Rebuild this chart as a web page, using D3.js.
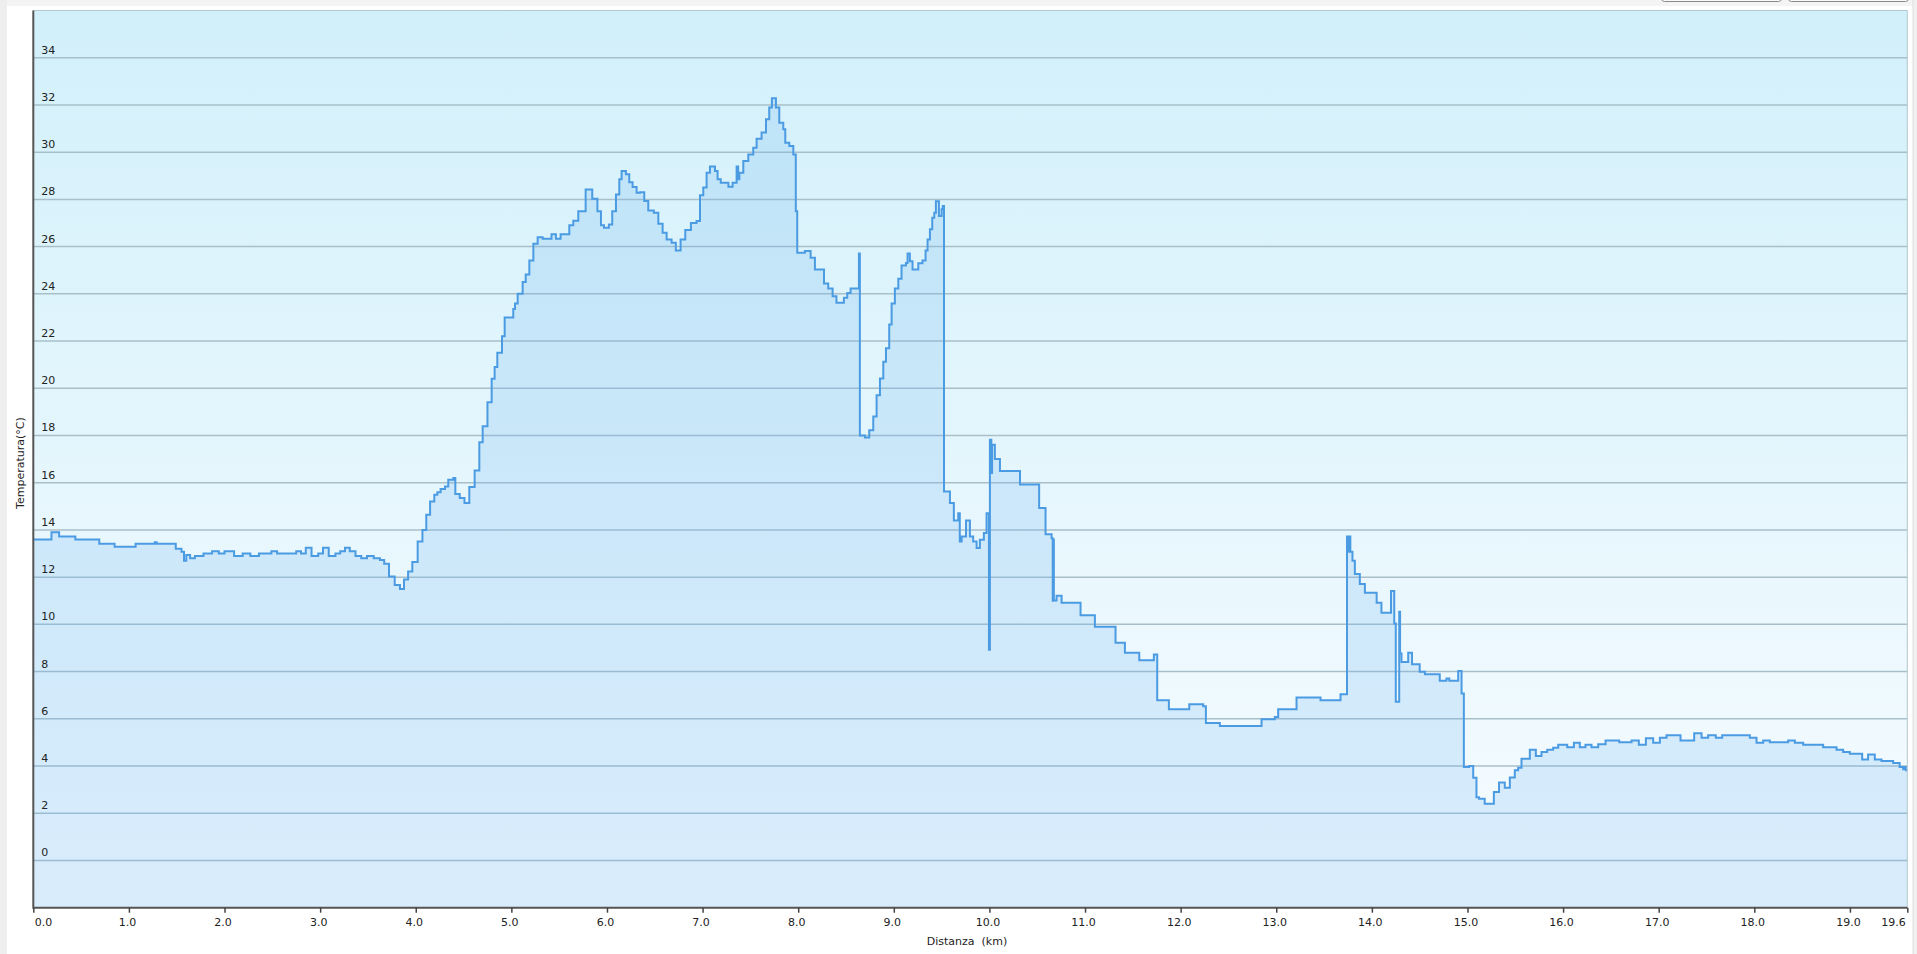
<!DOCTYPE html>
<html>
<head>
<meta charset="utf-8">
<script src="https://cdn.jsdelivr.net/npm/d3@7"></script>
<style>
  html, body { margin: 0; padding: 0; background: #fff; overflow: hidden; }
  svg { display: block; font-family: "DejaVu Sans", Verdana, sans-serif; }
</style>
</head>
<body>
<svg id="chart" width="1917" height="954"></svg>
<script>
// distance along the track (km) and temperature (°C), step samples
var distKm = [
  0.00, 0.19, 0.27, 0.44, 0.69, 0.85, 1.07, 1.27, 1.29, 1.49, 1.55, 1.576, 1.60, 1.64, 1.69,
  1.78, 1.87, 1.94, 2.00, 2.10, 2.19, 2.27, 2.36, 2.49, 2.55, 2.75, 2.80, 2.85, 2.91, 2.98,
  3.03, 3.09, 3.16, 3.21, 3.26, 3.31, 3.37, 3.43, 3.49, 3.56, 3.626, 3.67, 3.72, 3.78, 3.835,
  3.877, 3.92, 3.964, 4.02, 4.07, 4.11, 4.15, 4.194, 4.226, 4.26, 4.306, 4.34, 4.393, 4.414, 4.46,
  4.51, 4.56, 4.616, 4.665, 4.70, 4.75, 4.794, 4.825, 4.853, 4.902, 4.93, 5.02, 5.038, 5.066, 5.118,
  5.15, 5.188, 5.23, 5.275, 5.327, 5.42, 5.466, 5.515, 5.606, 5.648, 5.70, 5.777, 5.846, 5.90, 5.937,
  5.969, 6.02, 6.055, 6.094, 6.129, 6.153, 6.198, 6.233, 6.268, 6.31, 6.345, 6.39, 6.432, 6.49, 6.537,
  6.582, 6.624, 6.676, 6.72, 6.77, 6.819, 6.878, 6.937, 6.973, 7.007, 7.042, 7.077, 7.13, 7.157, 7.19,
  7.27, 7.314, 7.356, 7.372, 7.385, 7.426, 7.478, 7.53, 7.565, 7.617, 7.663, 7.697, 7.725, 7.767, 7.802,
  7.844, 7.865, 7.907, 7.949, 7.975, 7.99, 8.07, 8.13, 8.175, 8.27, 8.314, 8.36, 8.40, 8.478, 8.513,
  8.548, 8.635, 8.645, 8.698, 8.743, 8.785, 8.82, 8.855, 8.89, 8.918, 8.952, 8.977, 9.011, 9.047, 9.081,
  9.127, 9.144, 9.168, 9.196, 9.256, 9.30, 9.332, 9.353, 9.378, 9.402, 9.423, 9.44, 9.472, 9.50, 9.512,
  9.525, 9.587, 9.628, 9.674, 9.69, 9.71, 9.755, 9.796, 9.83, 9.866, 9.90, 9.942, 9.97, 9.995, 10.005,
  10.02, 10.028, 10.057, 10.11, 10.32, 10.52, 10.587, 10.65, 10.662, 10.668, 10.674, 10.702, 10.755, 10.953, 11.103,
  11.319, 11.417, 11.567, 11.72, 11.755, 11.877, 12.09, 12.236, 12.264, 12.41, 12.846, 12.985, 13.02, 13.212, 13.463,
  13.672, 13.74, 13.755, 13.763, 13.775, 13.797, 13.822, 13.874, 13.927, 14.05, 14.10, 14.20, 14.234, 14.25, 14.286,
  14.295, 14.31, 14.38, 14.42, 14.50, 14.555, 14.71, 14.78, 14.81, 14.903, 14.938, 14.962, 15.018, 15.06, 15.094,
  15.12, 15.18, 15.276, 15.33, 15.39, 15.443, 15.495, 15.53, 15.565, 15.652, 15.715, 15.774, 15.834, 15.896, 15.949,
  16.043, 16.113, 16.175, 16.234, 16.297, 16.367, 16.444, 16.587, 16.716, 16.792, 16.866, 16.942, 17.012, 17.082, 17.228,
  17.371, 17.448, 17.517, 17.597, 17.664, 17.953, 18.023, 18.093, 18.162, 18.354, 18.424, 18.511, 18.72, 18.86, 18.929,
  18.999, 19.128, 19.19, 19.26, 19.33, 19.452, 19.52, 19.557, 19.574, 19.585, 19.60
];
var tempC = [
  13.60, 13.90, 13.72, 13.60, 13.41, 13.29, 13.41, 13.48, 13.41, 13.20, 13.08, 12.70, 12.94, 12.80, 12.90,
  13.00, 13.10, 13.00, 13.10, 12.90, 13.00, 12.90, 13.00, 13.10, 13.00, 13.10, 13.00, 13.25, 12.90, 13.00,
  13.25, 12.90, 13.00, 13.10, 13.25, 13.10, 12.90, 12.80, 12.90, 12.80, 12.73, 12.57, 12.03, 11.67, 11.50,
  11.90, 12.24, 12.64, 13.51, 14.00, 14.64, 15.20, 15.49, 15.60, 15.73, 15.84, 16.13, 16.20, 15.52, 15.35,
  15.14, 15.82, 16.52, 17.71, 18.39, 19.41, 20.40, 20.90, 21.50, 22.20, 23.00, 23.36, 23.59, 24.00, 24.50,
  24.82, 25.41, 26.12, 26.40, 26.33, 26.52, 26.33, 26.52, 26.90, 27.10, 27.50, 28.42, 28.03, 27.50, 26.90,
  26.80, 26.94, 27.50, 28.21, 28.85, 29.20, 29.06, 28.73, 28.52, 28.28, 28.30, 27.93, 27.53, 27.43, 26.97,
  26.59, 26.30, 26.16, 25.84, 26.30, 26.70, 27.00, 27.08, 28.18, 28.50, 29.13, 29.39, 29.20, 28.85, 28.70,
  28.54, 28.70, 29.39, 28.85, 29.13, 29.63, 29.90, 30.19, 30.57, 30.83, 31.39, 31.89, 32.28, 31.89, 31.25,
  30.97, 30.40, 30.26, 29.90, 27.50, 25.74, 25.81, 25.53, 25.03, 24.44, 24.23, 23.90, 23.62, 23.83, 24.04,
  24.23, 25.71, 18.00, 17.92, 18.22, 18.80, 19.70, 20.41, 21.12, 21.70, 22.70, 23.59, 24.23, 24.64, 25.20,
  25.31, 25.71, 25.38, 25.03, 25.29, 25.41, 25.84, 26.30, 26.73, 27.22, 27.43, 27.92, 27.30, 27.58, 27.72,
  15.63, 15.14, 14.40, 14.71, 13.51, 13.72, 14.40, 13.72, 13.51, 13.23, 13.58, 13.87, 14.71, 8.92, 17.82,
  16.41, 17.61, 17.00, 16.50, 15.92, 14.93, 13.82, 13.65, 11.00, 13.60, 11.01, 11.21, 10.92, 10.39, 9.90,
  9.22, 8.80, 8.48, 8.72, 6.79, 6.40, 6.62, 6.53, 5.82, 5.70, 5.98, 6.08, 6.40, 6.90, 6.79,
  7.04, 13.72, 13.08, 13.72, 13.08, 12.70, 12.13, 11.71, 11.34, 10.92, 10.49, 11.41, 10.04, 6.72, 10.53,
  8.77, 8.41, 8.80, 8.31, 7.99, 7.89, 7.61, 7.71, 7.61, 8.02, 7.07, 3.96, 4.00, 3.50, 2.68,
  2.61, 2.40, 2.90, 3.30, 3.08, 3.51, 3.82, 3.93, 4.31, 4.69, 4.42, 4.59, 4.69, 4.77, 4.90,
  4.80, 4.99, 4.80, 4.90, 4.80, 4.92, 5.08, 5.01, 5.08, 4.90, 5.18, 4.99, 5.20, 5.30, 5.08,
  5.39, 5.20, 5.30, 5.20, 5.30, 5.20, 4.99, 5.08, 5.01, 5.08, 4.99, 4.90, 4.80, 4.69, 4.59,
  4.52, 4.28, 4.49, 4.28, 4.21, 4.13, 3.96, 3.86, 3.96, 3.82, 3.82
];
var yTicks = [0, 2, 4, 6, 8, 10, 12, 14, 16, 18, 20, 22, 24, 26, 28, 30, 32, 34];
var xTicks = [0, 1, 2, 3, 4, 5, 6, 7, 8, 9, 10, 11, 12, 13, 14, 15, 16, 17, 18, 19, 19.6];
var yTitle = "Temperatura(°C)";
var xTitle = "Distanza  (km)";

var svg = d3.select("#chart");
var plotL = 33.3, plotR = 1907.3, plotT = 10.5, plotB = 907.7;

var x = d3.scaleLinear().domain([0, 19.6]).range([plotL, plotR]);
var y = d3.scaleLinear().domain([-2, 36]).range([plotB, plotT]);

var points = distKm.map(function(d, i) { return { km: d, t: tempC[i] }; });

// page frame
svg.append("rect").attr("x", 0).attr("y", 0).attr("width", 1917).attr("height", 954).attr("fill", "#fff");
svg.append("rect").attr("x", 0).attr("y", 0).attr("width", 1917).attr("height", 6).attr("fill", "#f4f4f4");
svg.append("rect").attr("x", 0).attr("y", 0).attr("width", 7).attr("height", 954).attr("fill", "#eeeeee");
svg.append("rect").attr("x", 1913).attr("y", 0).attr("width", 4).attr("height", 954).attr("fill", "#f0f0f0");
svg.append("line").attr("x1", 1913).attr("x2", 1913).attr("y1", 0).attr("y2", 954).attr("stroke", "#dddddd");

// two buttons peeking in at the top right
[[1661, 1781], [1788, 1908]].forEach(function(b) {
  svg.append("rect")
    .attr("x", b[0] + 0.5).attr("y", -20).attr("width", b[1] - b[0]).attr("height", 21.5)
    .attr("rx", 3).attr("fill", "#fafafa").attr("stroke", "#8a8a8a");
});

var defs = svg.append("defs");
var bg = defs.append("linearGradient").attr("id", "bg").attr("x1", 0).attr("y1", 0).attr("x2", 0).attr("y2", 1);
bg.append("stop").attr("offset", "0%").attr("stop-color", "#d2f0fa");
bg.append("stop").attr("offset", "100%").attr("stop-color", "#f7fcff");

svg.append("rect")
  .attr("x", plotL).attr("y", plotT)
  .attr("width", plotR - plotL).attr("height", plotB - plotT)
  .attr("fill", "url(#bg)");

// grid
svg.append("g").selectAll("line").data(yTicks).enter().append("line")
  .attr("x1", plotL).attr("x2", plotR)
  .attr("y1", function(d) { return y(d); }).attr("y2", function(d) { return y(d); })
  .attr("stroke", "#a8bfca").attr("stroke-width", 1.5);

// area + line
var area = d3.area()
  .curve(d3.curveStepAfter)
  .x(function(d) { return x(d.km); })
  .y0(y(-2))
  .y1(function(d) { return y(d.t); });
var line = d3.line()
  .curve(d3.curveStepAfter)
  .x(function(d) { return x(d.km); })
  .y(function(d) { return y(d.t); });

svg.append("path").datum(points).attr("d", area)
  .attr("fill", "rgb(100,175,240)").attr("fill-opacity", 0.2);
svg.append("path").datum(points).attr("d", line)
  .attr("fill", "none").attr("stroke", "#4b9be3").attr("stroke-width", 2);

// plot border (top / right)
svg.append("line").attr("x1", plotL).attr("x2", plotR).attr("y1", plotT).attr("y2", plotT)
  .attr("stroke", "#b3c6ce").attr("stroke-width", 1);
svg.append("line").attr("x1", plotR).attr("x2", plotR).attr("y1", plotT).attr("y2", plotB)
  .attr("stroke", "#b3c6ce").attr("stroke-width", 1);

// y tick labels sit inside the plot, just above their grid line
svg.append("g").selectAll("text").data(yTicks).enter().append("text")
  .attr("x", plotL + 8).attr("y", function(d) { return y(d) - 4; })
  .attr("font-size", 11).attr("fill", "#222")
  .text(function(d) { return d; });

// y axis line
svg.append("line").attr("x1", plotL).attr("x2", plotL).attr("y1", plotT).attr("y2", plotB + 1)
  .attr("stroke", "#555").attr("stroke-width", 2);

// x axis
var xAxis = d3.axisBottom(x).tickValues(xTicks).tickSize(5).tickPadding(6)
  .tickFormat(d3.format(".1f"));
var gx = svg.append("g").attr("transform", "translate(0," + plotB + ")").call(xAxis);
gx.select(".domain").attr("stroke", "#555").attr("stroke-width", 2).attr("d", "M" + plotL + ",0H" + plotR);
gx.selectAll(".tick line").attr("stroke", "#444").attr("stroke-width", 1.5);
gx.selectAll(".tick text")
  .attr("font-family", "DejaVu Sans, Verdana, sans-serif")
  .attr("font-size", 11).attr("fill", "#222")
  .attr("text-anchor", function(d) { return d === 0 ? "start" : (d === 19.6 ? "end" : "middle"); })
  .attr("dx", function(d) { return d === 0 ? 1 : -2; });

// titles
svg.append("text")
  .attr("transform", "translate(24," + ((plotT + plotB) / 2 + 4) + ") rotate(-90)")
  .attr("text-anchor", "middle").attr("font-size", 11).attr("fill", "#222")
  .text(yTitle);
svg.append("text")
  .attr("x", 967).attr("y", 945)
  .attr("text-anchor", "middle").attr("font-size", 11).attr("fill", "#222")
  .style("white-space", "pre")
  .text(xTitle);
</script>
</body>
</html>
